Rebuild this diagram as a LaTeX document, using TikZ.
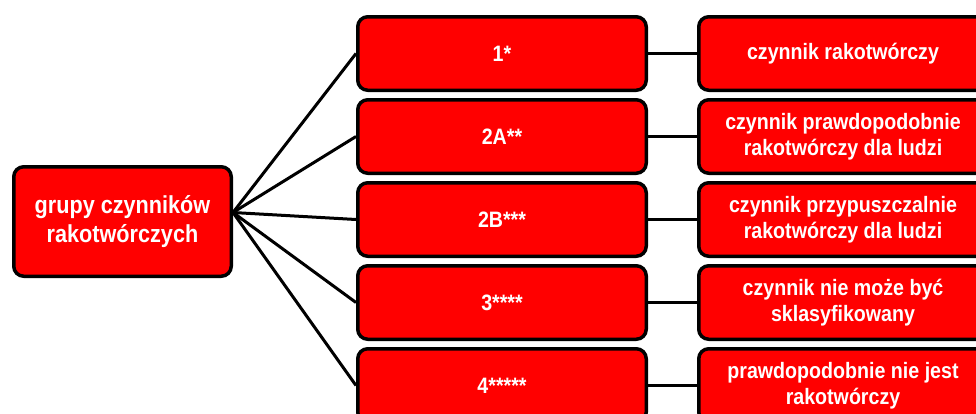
\documentclass[tikz,border=0pt]{standalone}
\usepackage{fontspec}
\setmainfont{Liberation Sans}
\newfontfamily\narrowfont[FakeStretch=0.88]{Liberation Sans}
\usetikzlibrary{positioning}
\definecolor{boxred}{RGB}{255,0,0}

\begin{document}
\begin{tikzpicture}[x=1pt,y=-1pt,line width=3pt,node distance=6pt]
  \tikzstyle{group}=[draw=black,fill=boxred,text=white,line width=3.5pt,rounded corners=10pt,
                     align=center,inner sep=0pt,minimum width=288.5pt,minimum height=73.5pt,
                     font=\narrowfont\bfseries\fontsize{22.3}{26.5}\selectfont]
  \tikzstyle{root}=[group,minimum width=217.5pt,minimum height=109.5pt,
                    font=\narrowfont\bfseries\fontsize{24.6}{29}\selectfont]

  \useasboundingbox (0,0) rectangle (976,413);

  % groups
  \node[group] (g1)  at (502,53.5)   {1*};
  \node[group] (g2a) [below=of g1]   {2A**};
  \node[group] (g2b) [below=of g2a]  {2B***};
  \node[group] (g3)  [below=of g2b]  {3****};
  \node[group] (g4)  [below=of g3]   {4*****};

  % descriptions
  \node[group] (d1)  [right=49pt of g1]  {czynnik rakotwórczy};
  \node[group] (d2a) [right=49pt of g2a] {czynnik prawdopodobnie\\rakotwórczy dla ludzi};
  \node[group] (d2b) [right=49pt of g2b] {czynnik przypuszczalnie\\rakotwórczy dla ludzi};
  \node[group] (d3)  [right=49pt of g3]  {czynnik nie może być\\sklasyfikowany};
  \node[group] (d4)  [right=49pt of g4]  {prawdopodobnie nie jest\\rakotwórczy};

  \node[root] (root) at (122.5,221.5) {grupy czynników\\rakotwórczych};
  \coordinate (hub) at ([yshift=9pt]root.east);

  \path (hub) edge (g1.west)
        (hub) edge (g2a.west)
        (hub) edge (g2b.west)
        (hub) edge (g3.west)
        (hub) edge (g4.west)
        (g1)  edge (d1)
        (g2a) edge (d2a)
        (g2b) edge (d2b)
        (g3)  edge (d3)
        (g4)  edge (d4);
\end{tikzpicture}
\end{document}
